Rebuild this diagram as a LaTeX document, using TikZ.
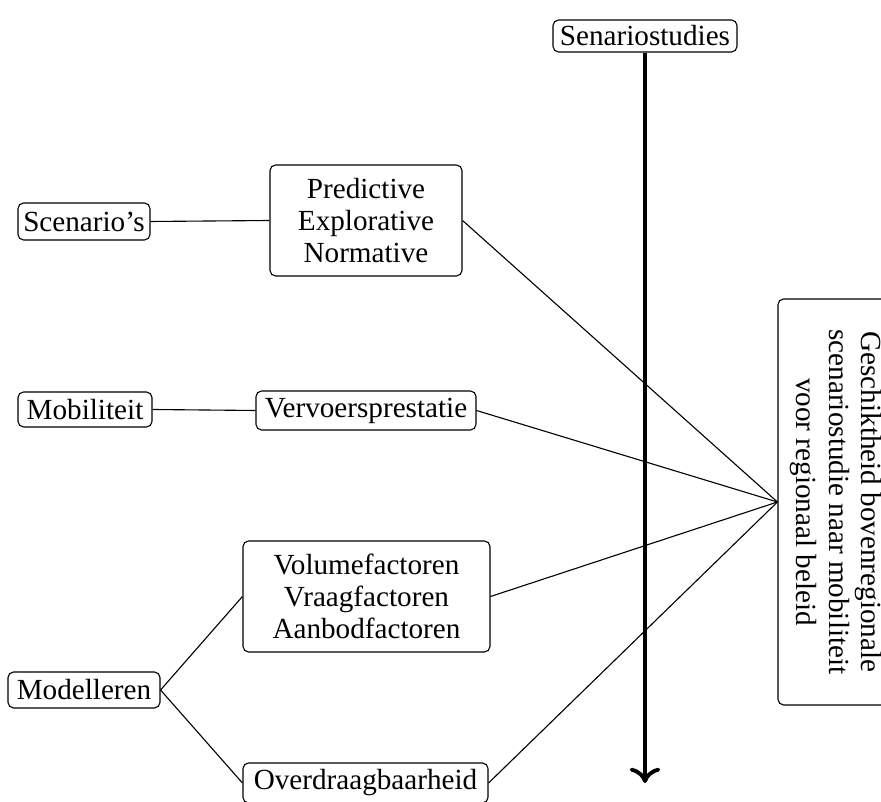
\documentclass[tikz,border=0pt]{standalone}
\usepackage{fontspec}
\setmainfont{Liberation Serif}
\usetikzlibrary{arrows.meta}
\tikzset{
  box/.style={draw, rounded corners=2pt, align=center, inner sep=0pt, line width=0.4pt, font=\fontsize{10.5}{11.6}\selectfont},
  link/.style={line width=0.4pt},
  axis/.style={line width=1.4pt, -{To[length=5.5pt,width=11pt]}},
}
\begin{document}
\begin{tikzpicture}[x=0.36pt, y=-0.36pt]
\useasboundingbox[clip] (0,0) rectangle (881,802);
\node[box, minimum width={184*0.36pt}, minimum height={32*0.36pt}] (sen) at (645,36) {Senariostudies};
\node[box, minimum width={132*0.36pt}, minimum height={37*0.36pt}] (scen) at (84,221.5) {Scenario's};
\node[box, minimum width={192*0.36pt}, minimum height={111*0.36pt}] (pred) at (366,220.5) {Predictive\\Explorative\\Normative};
\node[box, minimum width={134*0.36pt}, minimum height={35*0.36pt}] (mob) at (85,409.5) {Mobiliteit};
\node[box, minimum width={220*0.36pt}, minimum height={39*0.36pt}] (verv) at (366,410.5) {Vervoersprestatie};
\node[box, minimum width={247*0.36pt}, minimum height={111*0.36pt}] (vol) at (366.5,596.5) {Volumefactoren\\Vraagfactoren\\Aanbodfactoren};
\node[box, minimum width={152*0.36pt}, minimum height={36*0.36pt}] (mod) at (84,690) {Modelleren};
\node[box, minimum width={245*0.36pt}, minimum height={40*0.36pt}] (over) at (365.5,783) {Overdraagbaarheid};
\node[box, rotate=-90, minimum width={406*0.36pt}, minimum height={116*0.36pt}] (ges) at (836,502) {Geschiktheid bovenregionale\\scenariostudie naar mobiliteit\\voor regionaal beleid};
\coordinate (axend) at (645,783);
\draw[axis] (sen.south) -- (sen.south |- axend);
\draw[link] (scen.east) -- (pred.west);
\draw[link] (mob.east) -- (verv.west);
\draw[link] (mod.east) -- (vol.west);
\draw[link] (mod.east) -- (over.west);
\draw[link] (pred.east) -- (ges.south);
\draw[link] (verv.east) -- (ges.south);
\draw[link] (vol.east) -- (ges.south);
\draw[link] (over.east) -- (ges.south);
\end{tikzpicture}
\end{document}
